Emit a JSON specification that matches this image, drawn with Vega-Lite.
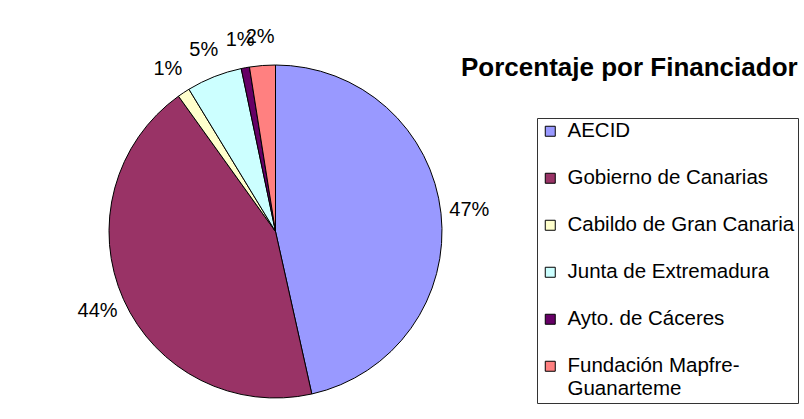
{
  "$schema": "https://vega.github.io/schema/vega-lite/v6.json",
  "width": 333,
  "height": 333,
  "autosize": {"type": "none"},
  "padding": {"left": 109, "top": 65, "right": 362, "bottom": 21},
  "background": "white",
  "config": {"view": {"stroke": null}, "font": "Liberation Sans"},
  "title": {
    "text": "Porcentaje por Financiador",
    "font": "Liberation Sans",
    "fontSize": 26,
    "fontWeight": "bold",
    "color": "black",
    "anchor": "start",
    "frame": "group",
    "offset": 0,
    "dx": 352,
    "dy": 54
  },
  "data": {
    "values": [
      {"financiador": "AECID", "valor": 46.5, "etiqueta": "47%", "orden": 1},
      {"financiador": "Gobierno de Canarias", "valor": 43.6, "etiqueta": "44%", "orden": 2},
      {"financiador": "Cabildo de Gran Canaria", "valor": 1.2, "etiqueta": "1%", "orden": 3},
      {"financiador": "Junta de Extremadura", "valor": 5.4, "etiqueta": "5%", "orden": 4},
      {"financiador": "Ayto. de Cáceres", "valor": 0.8, "etiqueta": "1%", "orden": 5},
      {"financiador": "Fundación Mapfre-Guanarteme", "valor": 2.5, "etiqueta": "2%", "orden": 6}
    ]
  },
  "encoding": {
    "theta": {"field": "valor", "type": "quantitative", "stack": true},
    "order": {"field": "orden", "type": "quantitative"}
  },
  "layer": [
    {
      "mark": {"type": "arc", "outerRadius": 166.5, "stroke": "black", "strokeWidth": 1},
      "encoding": {
        "color": {
          "field": "financiador",
          "type": "nominal",
          "scale": {
            "domain": ["AECID", "Gobierno de Canarias", "Cabildo de Gran Canaria", "Junta de Extremadura", "Ayto. de Cáceres", "Fundación Mapfre-Guanarteme"],
            "range": ["#9999FF", "#993366", "#FFFFCC", "#CCFFFF", "#660066", "#FF8080"]
          },
          "legend": {
            "title": null,
            "orient": "none",
            "legendX": 428,
            "legendY": 53,
            "padding": 3,
            "strokeColor": "#333333",
            "fillColor": "white",
            "symbolType": "square",
            "symbolSize": 100,
            "symbolStrokeColor": "black",
            "symbolStrokeWidth": 1,
            "symbolOpacity": 1,
            "symbolFillOpacity": 1,
            "labelFont": "Liberation Sans",
            "labelFontSize": 20.5,
            "labelColor": "black",
            "labelLimit": 300,
            "labelOffset": 7,
            "rowPadding": 26,
            "labelExpr": "datum.label == 'Fundación Mapfre-Guanarteme' ? ['Fundación Mapfre-', 'Guanarteme'] : datum.label"
          }
        }
      }
    },
    {
      "mark": {"type": "text", "radius": 195, "fontSize": 20, "font": "Liberation Sans", "color": "black"},
      "encoding": {"text": {"field": "etiqueta", "type": "nominal"}}
    }
  ]
}
